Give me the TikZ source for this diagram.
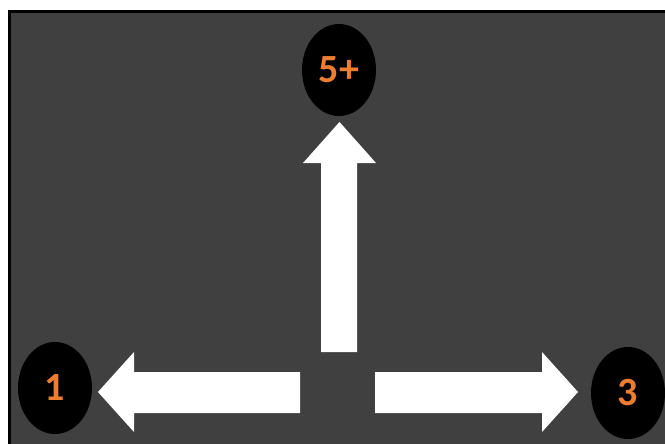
\documentclass[tikz,border=0pt]{standalone}
\usepackage{fontspec}
\setmainfont{Carlito}
\usetikzlibrary{shapes.geometric}
\definecolor{panel}{HTML}{404040}
\definecolor{numorange}{HTML}{ED7D31}
\begin{document}
\begin{tikzpicture}[x=1pt,y=-1pt,
  badge/.style={ellipse,fill=black,minimum width=74pt,minimum height=92pt,inner sep=0pt,
    text=numorange,font=\bfseries\fontsize{40}{46}\selectfont},
  blockarrow/.style={fill=white}]
\useasboundingbox (0,0) rectangle (665,444);
\clip (0,0) rectangle (665,444);
% dark panel with black frame
\draw[line width=3pt,fill=panel] (9.5,11.5) rectangle (680,460);
% number badges
\node[badge] (top) at (339,70) {5+};
\node[badge] (left) at (55,388) {1};
\node[badge] (right) at (628,393) {3};
% block arrows
\fill[blockarrow] (321,352) -- (321,163) -- (303,163) -- (339.5,122) -- (376,163) -- (357,163) -- (357,352) -- cycle;
\fill[blockarrow] (300,372) -- (134,372) -- (134,352) -- (98,392) -- (134,432) -- (134,413) -- (300,413) -- cycle;
\fill[blockarrow] (375,372) -- (542,372) -- (542,352) -- (578,392) -- (542,432) -- (542,413) -- (375,413) -- cycle;
\end{tikzpicture}
\end{document}
